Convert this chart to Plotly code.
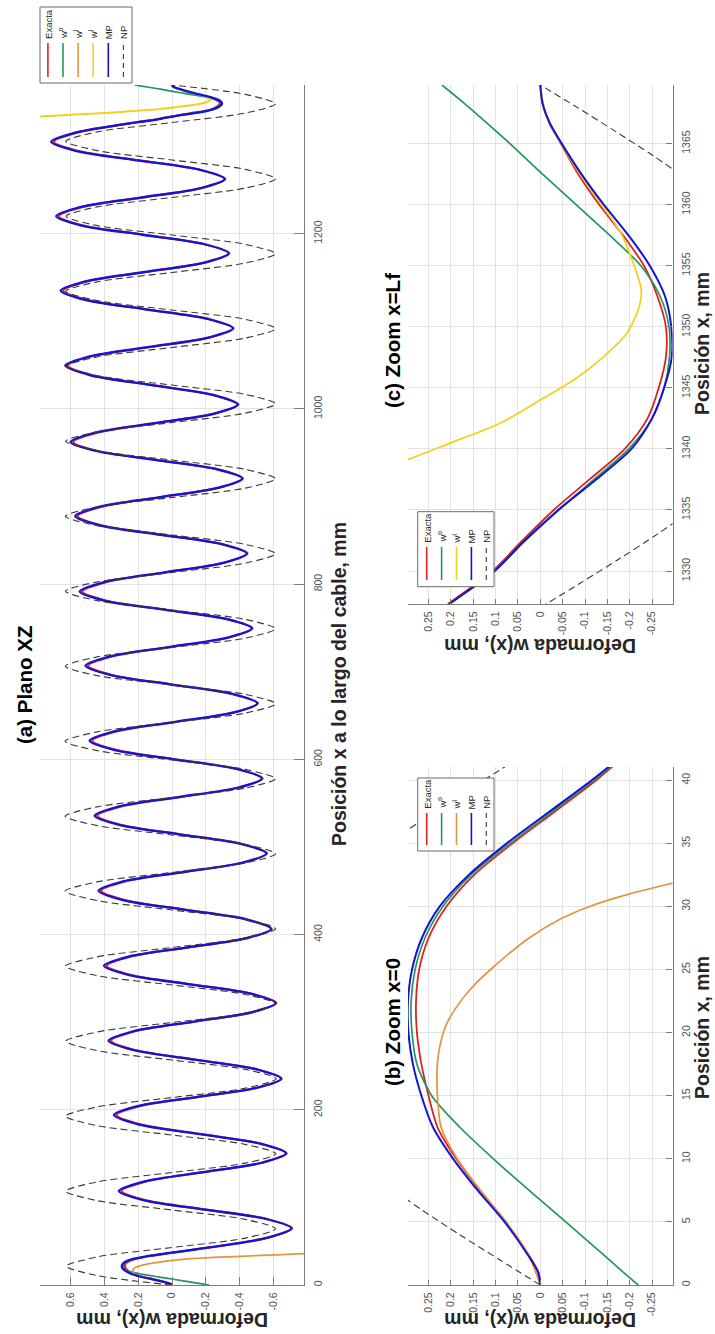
import plotly.graph_objects as go

FIG_W, FIG_H = 715, 1334
FONT = "Liberation Sans, Arial, Helvetica, sans-serif"

# ---------------- data ----------------
L_F = 1369.8  # cable length, mm

# Detail near x = 0  (panel b)
x_b = [0, 1, 2.5, 5, 7.5, 10, 12.5, 15, 17.5, 20, 22.5, 25, 27.5, 30, 32.5, 35, 37.5, 40, 41.2]
exacta_b = [0, 0.004, 0.028, 0.077, 0.135, 0.188, 0.23, 0.25, 0.266, 0.276, 0.278, 0.271, 0.25,
            0.21, 0.148, 0.062, -0.032, -0.125, -0.165]
w0_b = [-0.219, -0.186, -0.138, -0.057, 0.025, 0.105, 0.18, 0.243, 0.276, 0.287, 0.289, 0.28,
        0.258, 0.218, 0.155, 0.068, -0.026, -0.12, -0.162]
mp_b = [0, 0.005, 0.03, 0.08, 0.14, 0.195, 0.24, 0.266, 0.285, 0.295, 0.296, 0.287, 0.265,
        0.225, 0.16, 0.075, -0.02, -0.115, -0.158]

# w^I solution valid near x = 0
x_wI0 = [0, 2.5, 5, 7.5, 10, 12.5, 14, 15.5, 17, 18.5, 20.5, 22, 23.5, 25.2, 27.5, 29, 30, 31,
         31.8, 33, 34.5, 36]
wI0 = [0, 0.028, 0.077, 0.134, 0.186, 0.222, 0.228, 0.231, 0.231, 0.227, 0.212, 0.188, 0.155,
       0.105, 0.025, -0.045, -0.11, -0.2, -0.29, -0.44, -0.62, -0.8]

x_np_b = [0, 2, 4, 6, 8, 10.7, 16, 21.4, 27, 32.1, 34, 36, 38, 40, 42, 42.8]
np_b = [0, 0.091, 0.181, 0.267, 0.346, 0.442, 0.576, 0.625, 0.573, 0.442, 0.376, 0.299,
        0.216, 0.127, 0.037, 0]

# Detail near x = Lf  (panel c)
x_c = [1327.3, 1330, 1332.5, 1335, 1337.5, 1340, 1342.5, 1345, 1347.5, 1350, 1352.5, 1355,
       1357.5, 1360, 1362.5, 1365, 1366.7, 1368.3, 1369.8]
exacta_c = [0.207, 0.107, 0.04, -0.03, -0.11, -0.189, -0.24, -0.265, -0.281, -0.281, -0.262,
            -0.232, -0.185, -0.132, -0.085, -0.046, -0.02, -0.005, 0.0]
w0_c = [0.204, 0.104, 0.033, -0.042, -0.12, -0.198, -0.25, -0.277, -0.289, -0.288, -0.268,
        -0.225, -0.155, -0.08, -0.005, 0.068, 0.12, 0.17, 0.22]
mp_c = [0.204, 0.102, 0.035, -0.04, -0.125, -0.204, -0.25, -0.277, -0.294, -0.293, -0.279,
        -0.245, -0.197, -0.142, -0.092, -0.048, -0.021, -0.005, 0.0]

# w^I solution valid near x = Lf
x_wI1 = [1332, 1333.7, 1335, 1337, 1339.1, 1340.5, 1342.1, 1344, 1345.7, 1347.5, 1349.5,
         1351.5, 1353, 1355, 1357.7, 1360, 1362.5, 1365, 1367.5, 1369.8]
wI1 = [1.0, 0.8, 0.67, 0.48, 0.299, 0.2, 0.09, 0.0, -0.077, -0.14, -0.194, -0.22, -0.226,
       -0.21, -0.18, -0.137, -0.089, -0.047, -0.012, 0.0]

x_np_c = [1327.0, 1329, 1331, 1333, 1335, 1338, 1342.5, 1348.4, 1354, 1359.1, 1362, 1364,
          1366, 1368, 1369.8]
np_c = [0, -0.089, -0.177, -0.261, -0.339, -0.442, -0.556, -0.612, -0.561, -0.433, -0.331,
        -0.253, -0.168, -0.081, 0]

# Central stretch of the cable (panel a, between the two detail zones)
x_mid = [53.8, 64.7,
         75.35, 86, 96.65, 107.3,
         118.05, 128.8, 139.55, 150.3,
         161.2, 172.15, 183.1, 194,
         204.4, 214.75, 225.1, 235.5,
         246.3, 257.15, 268, 278.8,
         289.6, 300.4, 311.2, 322,
         332.6, 343.2, 353.8, 364.4,
         374.9, 385.45, 396, 406.5,
         417.4, 428.25, 439.1, 450,
         460.7, 471.35, 482, 492.7,
         503.4, 514.15, 524.9, 535.6,
         546.3, 556.95, 567.6, 578.3,
         589, 599.75, 610.5, 621.2,
         631.9, 642.6, 653.3, 664,
         674.7, 685.4, 696.1, 706.8,
         717.5, 728.2, 738.9, 749.6,
         760.1, 770.55, 781, 791.5,
         802.4, 813.25, 824.1, 835,
         845.65, 856.3, 866.95, 877.6,
         888.4, 899.15, 909.9, 920.7,
         931.1, 941.55, 952, 962.4,
         973.05, 983.7, 994.35, 1005,
         1016.1, 1027.25, 1038.4, 1049.5,
         1060.1, 1070.75, 1081.4, 1092,
         1102.75, 1113.5, 1124.25, 1135,
         1145.7, 1156.35, 1167, 1177.7,
         1188.3, 1198.85, 1209.4, 1220,
         1230.6, 1241.25, 1251.9, 1262.5,
         1273.1, 1283.75, 1294.4, 1305,
         1315.7]
mp_mid = [-0.559, -0.706,
          -0.557, -0.196, 0.165, 0.314,
          0.169, -0.18, -0.529, -0.674,
          -0.525, -0.166, 0.194, 0.343,
          0.198, -0.151, -0.499, -0.644,
          -0.495, -0.135, 0.226, 0.375,
          0.23, -0.119, -0.467, -0.612,
          -0.463, -0.105, 0.253, 0.402,
          0.257, -0.092, -0.44, -0.585,
          -0.436, -0.076, 0.285, 0.434,
          0.289, -0.062, -0.413, -0.558,
          -0.409, -0.051, 0.308, 0.457,
          0.312, -0.037, -0.386, -0.531,
          -0.382, -0.022, 0.338, 0.487,
          0.342, -0.009, -0.359, -0.504,
          -0.355, 0.004, 0.362, 0.511,
          0.367, 0.02, -0.328, -0.472,
          -0.323, 0.037, 0.397, 0.546,
          0.401, 0.052, -0.297, -0.442,
          -0.293, 0.065, 0.423, 0.572,
          0.427, 0.079, -0.27, -0.415,
          -0.266, 0.092, 0.45, 0.599,
          0.454, 0.106, -0.243, -0.388,
          -0.239, 0.122, 0.482, 0.631,
          0.486, 0.136, -0.215, -0.36,
          -0.211, 0.149, 0.509, 0.658,
          0.513, 0.162, -0.19, -0.335,
          -0.186, 0.175, 0.535, 0.684,
          0.538, 0.187, -0.165, -0.311,
          -0.161, 0.202, 0.564, 0.714,
          0.566]
exacta_mid = [-0.565, -0.71,
              -0.562, -0.205, 0.154, 0.299,
              0.157, -0.189, -0.535, -0.678,
              -0.53, -0.175, 0.183, 0.328,
              0.186, -0.16, -0.505, -0.648,
              -0.5, -0.144, 0.215, 0.36,
              0.218, -0.128, -0.473, -0.616,
              -0.468, -0.114, 0.242, 0.387,
              0.245, -0.101, -0.446, -0.589,
              -0.441, -0.085, 0.274, 0.419,
              0.277, -0.071, -0.419, -0.562,
              -0.414, -0.06, 0.297, 0.442,
              0.3, -0.046, -0.392, -0.535,
              -0.387, -0.031, 0.327, 0.472,
              0.33, -0.018, -0.365, -0.508,
              -0.36, -0.005, 0.351, 0.496,
              0.355, 0.011, -0.334, -0.476,
              -0.328, 0.028, 0.386, 0.531,
              0.389, 0.043, -0.303, -0.446,
              -0.298, 0.056, 0.412, 0.557,
              0.415, 0.07, -0.276, -0.419,
              -0.271, 0.083, 0.439, 0.584,
              0.442, 0.097, -0.249, -0.392,
              -0.244, 0.113, 0.471, 0.616,
              0.474, 0.127, -0.221, -0.364,
              -0.216, 0.14, 0.498, 0.643,
              0.501, 0.153, -0.196, -0.339,
              -0.191, 0.166, 0.524, 0.669,
              0.526, 0.178, -0.171, -0.315,
              -0.166, 0.193, 0.553, 0.699,
              0.555]

# NP solution over the whole cable
x_np = [0, 10.7, 21.4, 32.1, 42.8, 53.5, 64.2, 74.9,
        85.6, 96.3, 107.0, 117.7, 128.4, 139.1, 149.8, 160.5,
        171.2, 181.9, 192.6, 203.3, 214.0, 224.7, 235.4, 246.1,
        256.8, 267.5, 278.2, 288.9, 299.6, 310.3, 321.0, 331.7,
        342.5, 353.1, 363.9, 374.6, 385.3, 396.0, 406.7, 417.4,
        428.1, 438.8, 449.5, 460.2, 470.9, 481.6, 492.3, 503.0,
        513.7, 524.4, 535.1, 545.8, 556.5, 567.2, 577.9, 588.6,
        599.3, 610.0, 620.7, 631.4, 642.1, 652.8, 663.5, 674.2,
        684.9, 695.6, 706.3, 717.0, 727.7, 738.4, 749.1, 759.8,
        770.5, 781.2, 791.9, 802.6, 813.3, 824.0, 834.7, 845.4,
        856.1, 866.8, 877.5, 888.2, 898.9, 909.6, 920.3, 931.0,
        941.7, 952.4, 963.1, 973.8, 984.5, 995.2, 1005.9, 1016.6,
        1027.3, 1038.0, 1048.7, 1059.4, 1070.2, 1080.9, 1091.6, 1102.3,
        1113.0, 1123.7, 1134.4, 1145.1, 1155.8, 1166.5, 1177.2, 1187.9,
        1198.6, 1209.3, 1220.0, 1230.7, 1241.4, 1252.1, 1262.8, 1273.5,
        1284.2, 1294.9, 1305.6, 1316.3, 1327.0, 1337.7, 1348.4, 1359.1,
        1369.8]
np_full = [0, 0.442, 0.625, 0.442, 0, -0.433, -0.612, -0.433,
           0, 0.442, 0.628, 0.442, 0, -0.433, -0.614, -0.433,
           0, 0.442, 0.63, 0.442, 0, -0.433, -0.616, -0.433,
           0, 0.442, 0.628, 0.442, 0, -0.433, -0.612, -0.433,
           0, 0.442, 0.63, 0.442, 0, -0.433, -0.612, -0.433,
           0, 0.442, 0.632, 0.442, 0, -0.433, -0.612, -0.433,
           0, 0.442, 0.632, 0.442, 0, -0.433, -0.612, -0.433,
           0, 0.442, 0.632, 0.442, 0, -0.433, -0.612, -0.433,
           0, 0.442, 0.63, 0.442, 0, -0.433, -0.612, -0.433,
           0, 0.442, 0.63, 0.442, 0, -0.433, -0.612, -0.433,
           0, 0.442, 0.63, 0.442, 0, -0.433, -0.612, -0.433,
           0, 0.442, 0.628, 0.442, 0, -0.433, -0.612, -0.433,
           0, 0.442, 0.625, 0.442, 0, -0.433, -0.612, -0.433,
           0, 0.442, 0.628, 0.442, 0, -0.433, -0.612, -0.433,
           0, 0.442, 0.625, 0.442, 0, -0.433, -0.612, -0.433,
           0, 0.442, 0.628, 0.442, 0, -0.433, -0.612, -0.433,
           0]

# axis ticks
ticks_w_a = [-0.6, -0.4, -0.2, 0, 0.2, 0.4, 0.6]
ticks_w_zoom = [-0.25, -0.2, -0.15, -0.1, -0.05, 0, 0.05, 0.1, 0.15, 0.2, 0.25]
ticks_x_a = [0, 200, 400, 600, 800, 1000, 1200]
ticks_x_b = [0, 5, 10, 15, 20, 25, 30, 35, 40]
ticks_x_c = [1330, 1335, 1340, 1345, 1350, 1355, 1360, 1365]

assert len(x_mid) == len(mp_mid) == len(exacta_mid)
assert len(x_np) == len(np_full)
assert len(x_b) == len(mp_b) == len(exacta_b) == len(w0_b)
assert len(x_c) == len(mp_c) == len(exacta_c) == len(w0_c)
assert len(x_wI0) == len(wI0) and len(x_wI1) == len(wI1)

# full-length series for panel (a)
x_a = x_b + x_mid + x_c
mp_a = mp_b + mp_mid + mp_c
exacta_a = exacta_b + exacta_mid + exacta_c
x_w0_a = x_b + [None] + x_c
w0_a = w0_b + [None] + w0_c

# ---------------- styling ----------------
RED = "#e3201e"
GREEN = "#23985a"
ORANGE = "#e3953c"
YELLOW = "#f2d21c"
BLUE = "#1414d6"
NPC = "#3a3a3a"
AXC = "#7d7d7d"
GRID = "#e3e3e3"
TICKC = "#505050"


def fmt(v):
    s = ("%g" % v)
    return "0" if s in ("-0", "0") else s


def px(X):
    return X / FIG_W


def py(Y):
    return 1 - Y / FIG_H


fig = go.Figure()


def add_line(x, y, color, width, xa, ya, dash=None):
    # position runs along the vertical axis, deflection along the horizontal one
    fig.add_trace(go.Scatter(
        x=y, y=x, mode="lines", xaxis=xa, yaxis=ya, showlegend=False, hoverinfo="skip",
        line=dict(color=color, width=width, dash=dash, shape="spline", smoothing=0.8),
        connectgaps=False))


DASH = "7px,4px"

# panel (a)
add_line(x_a, exacta_a, RED, 2.2, "x", "y")
add_line(x_w0_a, w0_a, GREEN, 1.7, "x", "y")
add_line(x_wI0, wI0, ORANGE, 1.7, "x", "y")
add_line(x_wI1, wI1, YELLOW, 2.0, "x", "y")
add_line(x_a, mp_a, BLUE, 2.3, "x", "y")
add_line(x_np, np_full, NPC, 1.1, "x", "y", DASH)

# panel (b)
add_line(x_b, exacta_b, RED, 1.8, "x2", "y2")
add_line(x_b, w0_b, GREEN, 1.7, "x2", "y2")
add_line(x_wI0, wI0, ORANGE, 1.7, "x2", "y2")
add_line(x_b, mp_b, BLUE, 2.0, "x2", "y2")
add_line(x_np_b, np_b, NPC, 1.1, "x2", "y2", DASH)

# panel (c)
add_line(x_c, exacta_c, RED, 1.8, "x3", "y3")
add_line(x_c, w0_c, GREEN, 1.7, "x3", "y3")
add_line(x_wI1, wI1, YELLOW, 1.8, "x3", "y3")
add_line(x_c, mp_c, BLUE, 2.0, "x3", "y3")
add_line(x_np_c, np_c, NPC, 1.1, "x3", "y3", DASH)


def w_axis(domain, rng, vals, ticklen, anchor):
    return dict(domain=domain, range=rng, tickmode="array", tickvals=vals,
                ticktext=[fmt(v) for v in vals], tickangle=-90, ticks="inside",
                ticklen=ticklen, tickcolor=AXC, tickwidth=1, showline=True, linecolor=AXC,
                linewidth=1.3, showgrid=True, gridcolor=GRID, gridwidth=1, zeroline=False,
                tickfont=dict(family=FONT, size=10.5, color=TICKC), side="bottom",
                anchor=anchor, mirror=False, fixedrange=True, ticklabelstandoff=2)


def x_axis(domain, rng, vals, ticklen, anchor):
    return dict(domain=domain, range=rng, tickmode="array", tickvals=vals,
                ticktext=[fmt(v) for v in vals], tickangle=-90, ticks="inside",
                ticklen=ticklen, tickcolor=AXC, tickwidth=1, showline=True, linecolor=AXC,
                linewidth=1.3, showgrid=True, gridcolor=GRID, gridwidth=1, zeroline=False,
                tickfont=dict(family=FONT, size=10.5, color=TICKC), side="right",
                anchor=anchor, mirror=False, fixedrange=True, ticklabelstandoff=4)


dom_a_w = [px(40), px(304)]
dom_a_x = [py(1285), py(85)]
dom_z_w = [px(408), px(672.6)]
dom_b_x = [py(1285), py(767)]
dom_c_x = [py(604), py(85)]

fig.update_layout(
    width=FIG_W, height=FIG_H, margin=dict(l=0, r=0, t=0, b=0),
    paper_bgcolor="white", plot_bgcolor="white", showlegend=False,
    xaxis=w_axis(dom_a_w, [0.78, -0.78], ticks_w_a, 8, "y"),
    yaxis=x_axis(dom_a_x, [0, L_F], ticks_x_a, 10, "x"),
    xaxis2=w_axis(dom_z_w, [0.296, -0.296], ticks_w_zoom, 5, "y2"),
    yaxis2=x_axis(dom_b_x, [0, 41.05], ticks_x_b, 6, "x2"),
    xaxis3=w_axis(dom_z_w, [0.296, -0.296], ticks_w_zoom, 5, "y3"),
    yaxis3=x_axis(dom_c_x, [1327.3, L_F], ticks_x_c, 6, "x3"),
)

annotations = []
shapes = []


def label(text, X, Y, angle, size, bold=True, color="#1a1a1a"):
    annotations.append(dict(
        text=("<b>%s</b>" % text) if bold else text, x=px(X), y=py(Y),
        xref="paper", yref="paper", showarrow=False, textangle=angle,
        xanchor="center", yanchor="middle",
        font=dict(family=FONT, size=size, color=color)))


# titles and axis labels
label("(a) Plano XZ", 24, 685, -90, 20.5, color="#000000")
label("Posición x a lo largo del cable, mm", 339, 684, -90, 19.5, color="#262626")
label("Deformada w(x), mm", 172, 1320, 180, 19.5, color="#262626")
label("(b) Zoom x=0", 392, 1022, -90, 20.5, color="#000000")
label("Posición x, mm", 702, 1028, -90, 19.5, color="#262626")
label("Deformada w(x), mm", 540, 1320, 180, 19.5, color="#262626")
label("(c) Zoom x=Lf", 392, 341, -90, 20.5, color="#000000")
label("Posición x, mm", 702, 344, -90, 19.5, color="#262626")
label("Deformada w(x), mm", 540, 646, 180, 19.5, color="#262626")

legend_a = [("Exacta", RED, "solid"), ("w<sup>o</sup>", GREEN, "solid"),
            ("w<sup>I</sup>", ORANGE, "solid"), ("w<sup>I</sup>", YELLOW, "solid"),
            ("MP", BLUE, "solid"), ("NP", NPC, "dash")]
legend_b = [("Exacta", RED, "solid"), ("w<sup>o</sup>", GREEN, "solid"),
            ("w<sup>I</sup>", ORANGE, "solid"), ("MP", BLUE, "solid"), ("NP", NPC, "dash")]
legend_c = [("Exacta", RED, "solid"), ("w<sup>o</sup>", GREEN, "solid"),
            ("w<sup>I</sup>", YELLOW, "solid"), ("MP", BLUE, "solid"), ("NP", NPC, "dash")]


def legend(items, box, x0, step, line_y, text_y):
    X0, X1, Y0, Y1 = box
    shapes.append(dict(type="rect", xref="paper", yref="paper", x0=px(X0), x1=px(X1),
                       y0=py(Y1), y1=py(Y0), fillcolor="white",
                       line=dict(color="#6a6a6a", width=1), layer="above"))
    for i, (name, color, dash) in enumerate(items):
        X = x0 + i * step
        shapes.append(dict(type="line", xref="paper", yref="paper", x0=px(X), x1=px(X),
                           y0=py(line_y[1]), y1=py(line_y[0]),
                           line=dict(color=color, width=1.6 if dash == "solid" else 1.1,
                                     dash="solid" if dash == "solid" else "5px,4px"),
                           layer="above"))
        annotations.append(dict(text=name, x=px(X), y=py(text_y), xref="paper", yref="paper",
                                showarrow=False, textangle=-90, xanchor="center",
                                yanchor="bottom",
                                font=dict(family=FONT, size=9.5, color="#262626")))


legend(legend_a, (40, 132, 7, 83), 47.9, 15.1, (43, 77), 41)
legend(legend_b, (417.7, 494, 778, 851), 426.7, 14.9, (813, 845), 811)
legend(legend_c, (417.7, 494, 511.7, 586.7), 426.7, 14.9, (547, 580), 545)

fig.update_layout(annotations=annotations, shapes=shapes)
fig.write_html("out.html")
